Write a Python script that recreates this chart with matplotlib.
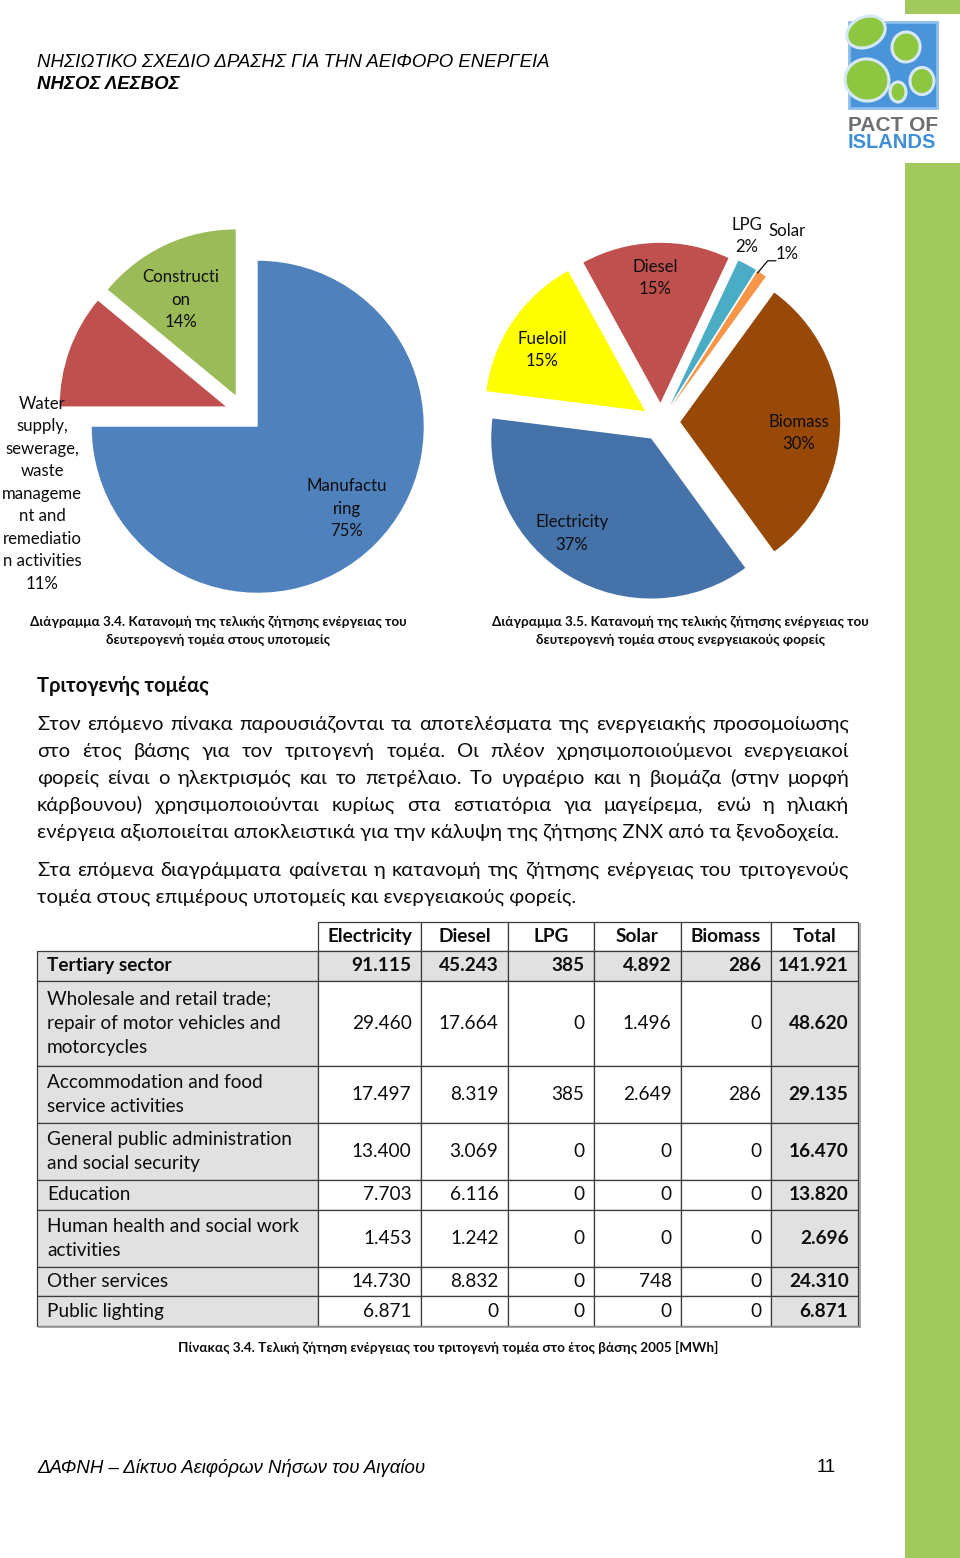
import matplotlib
matplotlib.use('Agg')
import matplotlib.pyplot as plt
from matplotlib.patches import Rectangle, Ellipse
import numpy as np

# secondary sector by sub-sector (Διάγραμμα 3.4)
sector_names  = ['Manufactu\nring', 'Water\nsupply,\nsewerage,\nwaste\nmanageme\nnt and\nremediatio\nn activities', 'Constructi\non']
sector_shares = [75, 11, 14]
sector_colors = ['#4F81BD', '#C0504D', '#9BBB59']

# secondary sector by energy carrier (Διάγραμμα 3.5)
carrier_names  = ['Electricity', 'Fueloil', 'Diesel', 'LPG', 'Solar', 'Biomass']
carrier_shares = [37, 15, 15, 2, 1, 30]
carrier_colors = ['#4672AA', '#FFFF00', '#C0504D', '#4BACC6', '#F79646', '#984807']

# tertiary sector final energy demand, base year 2005 [MWh] (Πίνακας 3.4)
table_columns = ['Electricity', 'Diesel', 'LPG', 'Solar', 'Biomass', 'Total']
table_rows = ['Tertiary sector',
              'Wholesale and retail trade;\nrepair of motor vehicles and\nmotorcycles',
              'Accommodation and food\nservice activities',
              'General public administration\nand social security',
              'Education',
              'Human health and social work\nactivities',
              'Other services',
              'Public lighting']
electricity = [91115, 29460, 17497, 13400, 7703, 1453, 14730, 6871]
diesel      = [45243, 17664, 8319, 3069, 6116, 1242, 8832, 0]
lpg         = [385, 0, 385, 0, 0, 0, 0, 0]
solar       = [4892, 1496, 2649, 0, 0, 0, 748, 0]
biomass     = [286, 0, 286, 0, 0, 0, 0, 0]
total       = [141921, 48620, 29135, 16470, 13820, 2696, 24310, 6871]

paragraph_1 = ['Στον επόμενο πίνακα παρουσιάζονται τα αποτελέσματα της ενεργειακής προσομοίωσης',
               'στο έτος βάσης για τον τριτογενή τομέα. Οι πλέον χρησιμοποιούμενοι ενεργειακοί',
               'φορείς είναι ο ηλεκτρισμός και το πετρέλαιο. Το υγραέριο και η βιομάζα (στην μορφή',
               'κάρβουνου) χρησιμοποιούνται κυρίως στα εστιατόρια για μαγείρεμα, ενώ η ηλιακή',
               'ενέργεια αξιοποιείται αποκλειστικά για την κάλυψη της ζήτησης ΖΝΧ από τα ξενοδοχεία.']
paragraph_2 = ['Στα επόμενα διαγράμματα φαίνεται η κατανομή της ζήτησης ενέργειας του τριτογενούς',
               'τομέα στους επιμέρους υποτομείς και ενεργειακούς φορείς.']

W, H = 960, 1558
BODY = ['Lato', 'Noto Sans', 'DejaVu Sans']
ARIAL = ['Liberation Sans Narrow', 'Liberation Sans', 'DejaVu Sans']
INK = '#0D0D0D'
GREEN = '#A2C95E'

fig = plt.figure(figsize=(W / 100, H / 100), dpi=100)
page = fig.add_axes([0, 0, 1, 1], zorder=10)
page.set_xlim(0, W)
page.set_ylim(H, 0)
page.axis('off')
page.patch.set_alpha(0)
renderer = fig.canvas.get_renderer()


def width_of(s, size=10, **kw):
    t = page.text(0, 0, s, fontsize=size, **kw)
    w = t.get_window_extent(renderer).width
    t.remove()
    return w


def fit(s, px, **kw):
    return 10 * px / width_of(s, 10, **kw)


def put(x, y, s, size, step=22, ha='left', **kw):
    rows = s.split('\n')
    for k, row in enumerate(rows):
        page.text(x, y + (k - (len(rows) - 1) / 2) * step, row,
                  fontsize=size, ha=ha, va='center', **kw)


def justify(line, y, x0, x1, size, **kw):
    words = line.split()
    widths = [width_of(w, size, **kw) for w in words]
    gap = (x1 - x0 - sum(widths)) / (len(words) - 1)
    x = x0
    for w, wd in zip(words, widths):
        page.text(x, y, w, fontsize=size, va='center', **kw)
        x += wd + gap


def draw_pie(cx, cy, r, shares, colors, start, explode):
    half = 1.6 * r
    ax = fig.add_axes([(cx - half) / W, 1 - (cy + half) / H, 2 * half / W, 2 * half / H])
    wedges, _ = ax.pie(shares, colors=colors, startangle=start, counterclock=False,
                       explode=explode, wedgeprops=dict(linewidth=0))
    ax.set_xlim(-1.6, 1.6)
    ax.set_ylim(-1.6, 1.6)
    ax.axis('off')
    return wedges


def polar(cx, cy, r, ang, dist):
    a = np.radians(ang)
    return cx + dist * r * np.cos(a), cy - dist * r * np.sin(a)


# ---- page furniture ----
page.add_patch(Rectangle((905, 0), 55, 14, fc=GREEN, ec='none'))
page.add_patch(Rectangle((905, 163), 55, H - 163, fc=GREEN, ec='none'))

hsize = fit('ΝΗΣΙΩΤΙΚΟ ΣΧΕΔΙΟ ΔΡΑΣΗΣ ΓΙΑ ΤΗΝ ΑΕΙΦΟΡΟ ΕΝΕΡΓΕΙΑ', 514, family=ARIAL, style='italic')
page.text(37, 62, 'ΝΗΣΙΩΤΙΚΟ ΣΧΕΔΙΟ ΔΡΑΣΗΣ ΓΙΑ ΤΗΝ ΑΕΙΦΟΡΟ ΕΝΕΡΓΕΙΑ', fontsize=hsize,
          family=ARIAL, style='italic', va='center', color='black')
page.text(37, 84, 'ΝΗΣΟΣ ΛΕΣΒΟΣ', fontsize=hsize, family=ARIAL, style='italic',
          weight='bold', va='center', color='black')

# logo
page.add_patch(Rectangle((849, 22), 88, 86, fc='#4A95DA', ec='#8CBDEB', lw=2))
for (ex, ey, ew, eh, rot) in [(866, 32, 40, 30, -25), (906, 47, 28, 30, 10),
                              (867, 80, 44, 42, 15), (922, 81, 24, 27, 0), (898, 92, 16, 20, 0)]:
    page.add_patch(Ellipse((ex, ey), ew, eh, angle=rot, fc='#8DC63F', ec='#D6E8F6', lw=2.2))
lsize = fit('PACT OF', 90, family=ARIAL, weight='bold')
page.text(893, 125, 'PACT OF', fontsize=lsize, family=ARIAL, weight='bold',
          color='#6D6E71', ha='center', va='center')
page.text(892, 142, 'ISLANDS', fontsize=fit('ISLANDS', 88, family=ARIAL, weight='bold'),
          family=ARIAL, weight='bold', color='#3F8FD8', ha='center', va='center')

# ---- pies ----
psize = fit('Electricity', 73, family=BODY)

c1x, c1y, r1 = 244, 413, 166
w1 = draw_pie(c1x, c1y, r1, sector_shares, sector_colors, 90, [0.117] * 3)
nudge1 = [(2, 0.846), (41.6, 1.31), (4, 0.78)]
for w, name, share, (da, d) in zip(w1, sector_names, sector_shares, nudge1):
    mid = (w.theta1 + w.theta2) / 2 + da
    x, y = polar(c1x, c1y, r1, mid, d)
    put(x, y, f'{name}\n{share}%', psize, step=22.5, ha='center', family=BODY, color=INK)

c2x, c2y, r2 = 661, 422, 160
w2 = draw_pie(c2x, c2y, r2, carrier_shares, carrier_colors, -54, [0.12] * 6)
nudge2 = [(-8, 0.89), (3, 0.87), (0.6, 0.90), (4, 1.28), (-0.8, 1.37), (-4.6, 0.865)]
for w, name, share, (da, d) in zip(w2, carrier_names, carrier_shares, nudge2):
    mid = (w.theta1 + w.theta2) / 2 + da
    x, y = polar(c2x, c2y, r2, mid, d)
    put(x, y, f'{name}\n{share}%', psize, step=22.5, ha='center', family=BODY, color=INK)
# leader line for Solar
ws = w2[carrier_names.index('Solar')]
sx, sy = polar(c2x, c2y, r2, (ws.theta1 + ws.theta2) / 2, 1.12)
page.plot([sx - 4, sx + 6, sx + 14], [sy - 1, sy - 13, sy - 13], color=INK, lw=0.9)

# captions
csize = fit('Διάγραμμα 3.4. Κατανομή της τελικής ζήτησης ενέργειας του', 377, family=BODY, weight='bold')
put(218, 631, 'Διάγραμμα 3.4. Κατανομή της τελικής ζήτησης ενέργειας του\nδευτερογενή τομέα στους υποτομείς',
    csize, step=18, ha='center', family=BODY, weight='bold', color=INK)
put(680, 631, 'Διάγραμμα 3.5. Κατανομή της τελικής ζήτησης ενέργειας του\nδευτερογενή τομέα στους ενεργειακούς φορείς',
    csize, step=18, ha='center', family=BODY, weight='bold', color=INK)

# ---- heading and text ----
page.text(37, 686, 'Τριτογενής τομέας', fontsize=fit('Τριτογενής τομέας', 172, family=BODY, weight='bold'),
          family=BODY, weight='bold', va='center', color=INK)

bsize = fit(paragraph_1[-1], 804, family=BODY)
for k, line in enumerate(paragraph_1):
    y = 724 + 27 * k
    if k < len(paragraph_1) - 1:
        justify(line, y, 37, 849, bsize, family=BODY, color=INK)
    else:
        page.text(37, y, line, fontsize=bsize, family=BODY, va='center', color=INK)
justify(paragraph_2[0], 870, 37, 849, bsize, family=BODY, color=INK)
page.text(37, 897, paragraph_2[1], fontsize=bsize, family=BODY, va='center', color=INK)

# ---- table ----
EDGE = '#3C3C3C'
SHADE = '#E1E1E1'
col_x = [37, 318, 421, 508, 594, 681, 771, 858]
tsize = fit('Wholesale and retail trade;', 224, family=BODY)

y0 = 922
head_h = 29
for j, name in enumerate(table_columns):
    x0, x1 = col_x[j + 1], col_x[j + 2]
    page.add_patch(Rectangle((x0, y0), x1 - x0, head_h, fc='white', ec=EDGE, lw=0.9))
    page.text((x0 + x1) / 2, y0 + head_h / 2, name, fontsize=tsize, family=BODY, weight='bold',
              ha='center', va='center', color=INK)
y = y0 + head_h
for i, label in enumerate(table_rows):
    n = label.count('\n') + 1
    h = 29.5 + 27.8 * (n - 1)
    values = [electricity[i], diesel[i], lpg[i], solar[i], biomass[i], total[i]]
    for j in range(7):
        x0, x1 = col_x[j], col_x[j + 1]
        shaded = i == 0 or j == 0 or j == 6
        page.add_patch(Rectangle((x0, y), x1 - x0, h, fc=SHADE if shaded else 'white', ec=EDGE, lw=0.9))
    bold = 'bold' if i == 0 else 'normal'
    put(47, y + h / 2, label, tsize, step=24, family=BODY, weight=bold, color=INK)
    for j, v in enumerate(values):
        txt = f'{v:,}'.replace(',', '.')
        wgt = 'bold' if (i == 0 or j == 5) else 'normal'
        page.text(col_x[j + 2] - 9.5, y + h / 2, txt, fontsize=tsize, family=BODY, weight=wgt,
                  ha='right', va='center', color=INK)
    y += h
# soft shadow along the outer edge
page.plot([col_x[-1] + 1.5, col_x[-1] + 1.5], [y0 + 2, y + 1.5], color='#9A9A9A', lw=1.2)
page.plot([col_x[0] + 2, col_x[-1] + 1.5], [y + 1.5, y + 1.5], color='#9A9A9A', lw=1.2)

page.text(448, 1347, 'Πίνακας 3.4. Τελική ζήτηση ενέργειας του τριτογενή τομέα στο έτος βάσης 2005 [MWh]',
          fontsize=fit('Πίνακας 3.4. Τελική ζήτηση ενέργειας του τριτογενή τομέα στο έτος βάσης 2005 [MWh]',
                       540, family=BODY, weight='bold'),
          family=BODY, weight='bold', ha='center', va='center', color=INK)

# ---- footer ----
fsize = fit('ΔΑΦΝΗ – Δίκτυο Αειφόρων Νήσων του Αιγαίου', 389, family=ARIAL, style='italic')
page.text(37, 1468, 'ΔΑΦΝΗ – Δίκτυο Αειφόρων Νήσων του Αιγαίου', fontsize=fsize, family=ARIAL,
          style='italic', va='center', color='black')
page.text(836, 1468, '11', fontsize=fsize, family=ARIAL, ha='right', va='center', color='black')

fig.savefig('out.png', dpi=100)
